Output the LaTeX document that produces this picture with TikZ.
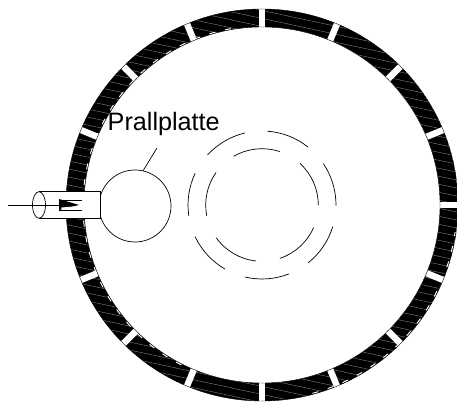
\documentclass[tikz,border=0pt]{standalone}
\usepackage{fontspec}
\usetikzlibrary{shapes.geometric}
\setmainfont{Liberation Sans}
\tikzset{
  x=1pt,y=1pt,
  thinline/.style={line width=0.7pt,black},
  arcline/.style={line width=0.7pt,black},
  hatchline/.style={line width=0.4pt,black!50},
  sliver/.style={line width=1pt,white,dash pattern=on 6pt off 10pt},
  platecircle/.style={circle,draw,line width=0.7pt,minimum size=72pt,inner sep=0pt,fill=white}
}
\begin{document}
\begin{tikzpicture}
\useasboundingbox (0,0) rectangle (457,401);
\fill[white] (0,0) rectangle (457,401);
\coordinate (c) at (262,196);
% ring
\begin{scope}
  \clip (c) circle (196pt);
  \fill[black] (c) circle (196pt);
  \foreach \yy in {-60,-52,...,500} {
    \draw[hatchline] (50,\yy) -- (470,\yy-90);
  }
\end{scope}
\fill[white] (c) circle (178pt);
% white slivers at the inner and outer edges
\draw[sliver] (c) ++(100:179pt) arc[start angle=100,end angle=175,radius=179pt];
\draw[sliver] (c) ++(185:179pt) arc[start angle=185,end angle=250,radius=179pt];
\draw[sliver] (c) ++(-75:195pt) arc[start angle=-75,end angle=-8,radius=195pt];
% gaps
\foreach \a in {0,22.5,...,337.5} {
  \fill[white,shift={(262,196)},rotate=\a] (177,-3.2) rectangle (197,3.2);
}
\draw[line width=0.4pt] (c) circle (178pt);
\draw[line width=0.4pt] (c) circle (196pt);
% dashed circles
\foreach \s/\e in {137.4/103.4,85.9/51.4,34/-0.4,-17/-51.2,-68.5/-103.3,-120/-154.8,188.5/154.6} {
  \draw[arcline] (c) ++(\s:74pt) arc[start angle=\s,end angle=\e,radius=74pt];
}
\foreach \s/\e in {120/71.7,47.6/-0.5,-23.7/-71.5,-96/-144.4,191/144.7} {
  \draw[arcline] (c) ++(\s:56.3pt) arc[start angle=\s,end angle=\e,radius=56.3pt];
}
% plate and tube
\node[platecircle] (plate) at (135,195) {};
\fill[white] (39,182.7) rectangle (100.5,209.3);
\coordinate (tubeTL) at (39,209.3);
\coordinate (tubeTR) at (100.5,209.3);
\coordinate (tubeBL) at (39,182.7);
\coordinate (tubeBR) at (100.5,182.7);
\draw[thinline] (tubeTL) -- (tubeTR) -- (tubeBR) -- (tubeBL);
\node[ellipse,draw,line width=0.7pt,minimum width=13pt,minimum height=26.6pt,inner sep=0pt] (mouth) at (39,196) {};
% flow arrow
\coordinate (flowstart) at (8,196);
\coordinate (flowbase) at (59,196);
\draw[thinline] (flowstart) -- (flowbase);
\draw[thinline] (59,201) -- (82,201);
\draw[thinline] (59,191) -- (82,191);
\fill[black] (59,202) -- (79,196) -- (59,191) -- cycle;
\fill[white] (62,191.6) -- (76,194.8) -- (61,193.4) -- cycle;
% label
\node[anchor=base west,inner sep=0pt,font=\fontsize{25.2}{27}\selectfont] (lab) at (107.5,270) {Prallplatte};
\coordinate (leader) at (157,253);
\draw[thinline] (leader) -- (plate.77);
\end{tikzpicture}
\end{document}
